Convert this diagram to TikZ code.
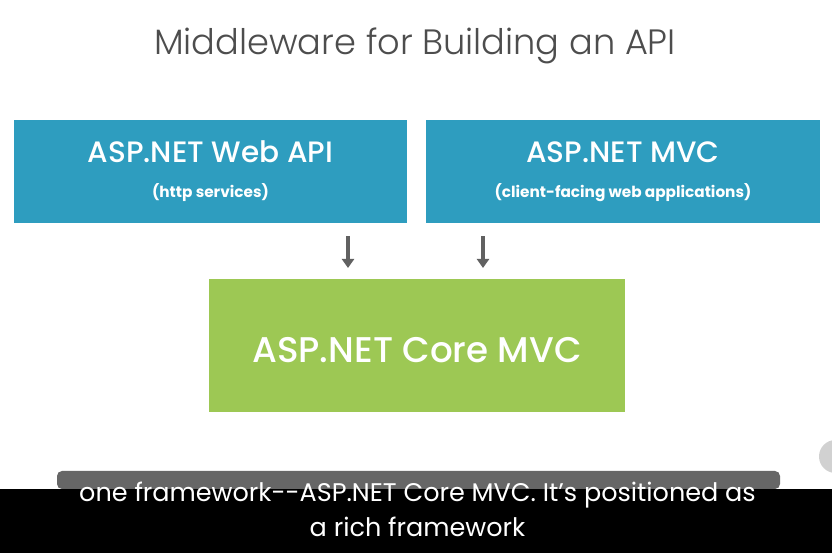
\documentclass[tikz,border=0pt]{standalone}
\usepackage{fontspec}
\setmainfont{Poppins}
\newfontfamily\lightfont{Poppins Light}
\newfontfamily\medfont{Poppins Medium}
\usetikzlibrary{positioning,arrows.meta}

\definecolor{apiblue}{RGB}{46,157,191}
\definecolor{coregreen}{RGB}{157,200,84}
\definecolor{titlegray}{RGB}{77,77,77}
\definecolor{arrowgray}{RGB}{97,97,97}
\definecolor{bargray}{RGB}{102,102,102}

\tikzset{
    fwbox/.style={inner sep=0pt, outer sep=0pt},
    headtxt/.style={anchor=base, text=white, font=\medfont\fontsize{29.5}{29.5}\selectfont},
    subtxt/.style={anchor=base, text=white, font=\bfseries\fontsize{15.3}{15.3}\selectfont},
    flow/.style={draw=arrowgray, line width=4pt, -{Triangle[width=12pt,length=9pt]}},
    captxt/.style={anchor=base, text=white, font=\fontsize{25.5}{25.5}\selectfont}
}

\begin{document}
\begin{tikzpicture}[x=1pt, y=1pt]

    \useasboundingbox (0,0) rectangle (832,553);
    \fill[white] (0,0) rectangle (832,553);

    \node[anchor=base, text=titlegray, font=\lightfont\fontsize{35.2}{35.2}\selectfont] (title) at (415,498) {Middleware for Building an API};

    \node[fwbox, fill=apiblue, minimum width=393pt, minimum height=103pt] (web) at (210.5,381) {};
    \node[fwbox, fill=apiblue, minimum width=394pt, minimum height=103pt, right=19pt of web] (mvc) {};
    \node[fwbox, fill=coregreen, minimum width=416pt, minimum height=133pt] (core) at (417,207.5) {};

    \node[headtxt] (webhead) at ([yshift=9pt]web.center) {ASP.NET Web API};
    \node[subtxt] (websub) at ([yshift=-26pt]web.center) {(http services)};
    \node[headtxt] (mvchead) at ([yshift=9pt]mvc.center) {ASP.NET MVC};
    \node[subtxt] (mvcsub) at ([yshift=-26pt]mvc.center) {(client-facing web applications)};
    \node[headtxt, font=\medfont\fontsize{35.7}{35.7}\selectfont] (corehead) at ([yshift=-17.5pt]core.center) {ASP.NET Core MVC};

    \draw[flow, shorten <=13pt, shorten >=11pt] ([xshift=-59pt]web.south east) -- ([xshift=-59pt]web.south east |- core.north);
    \draw[flow, shorten <=13pt, shorten >=11pt] ([xshift=57pt]mvc.south west) -- ([xshift=57pt]mvc.south west |- core.north);

    % caption bar
    \fill[bargray, rounded corners=5pt] (57,64) rectangle (780,82);
    \fill[black] (0,0) rectangle (832,64);
    \fill[black!18] (835.5,96.5) circle (16.5pt);
    \node[captxt] (cap1) at (417.5,51) {one framework-{}-ASP.NET Core MVC. It's positioned as};
    \node[captxt] (cap2) at (417.5,16) {a rich framework};

\end{tikzpicture}
\end{document}
